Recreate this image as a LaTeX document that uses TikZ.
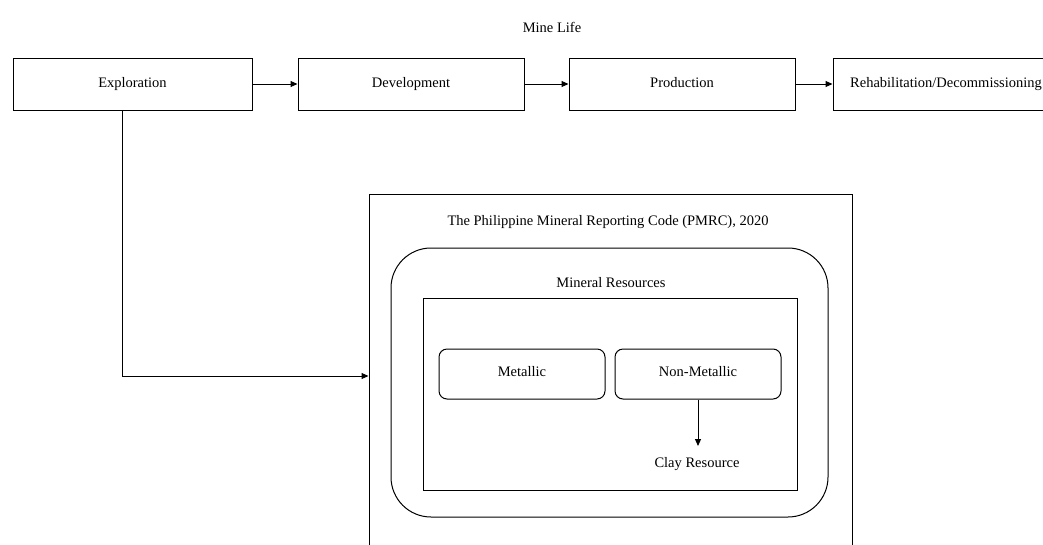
\documentclass[tikz,border=0pt]{standalone}
\usepackage{fontspec}
\setmainfont{Liberation Serif}
\usetikzlibrary{arrows.meta,calc}
\begin{document}
\begin{tikzpicture}[x=1pt,y=-1pt,
  every node/.style={font=\fontsize{14.5}{17}\selectfont, inner sep=0pt},
  stagebox/.style={draw, line width=1pt, minimum height=52pt},
  catbox/.style={draw, line width=1pt, rounded corners=8pt, minimum width=166pt, minimum height=50pt},
  conn/.style={line width=1pt, -{Triangle[length=7pt,width=6pt]}}]
\useasboundingbox (0,0) rectangle (1043,544);
\clip (0,0) rectangle (1043,544);
\node (title) at (552,27) {Mine Life};
\node[stagebox, minimum width=239pt] (expl) at (132.5,84) {\raisebox{4pt}{Exploration}};
\node[stagebox, minimum width=226pt] (dev) at (411,84) {\raisebox{4pt}{Development}};
\node[stagebox, minimum width=226pt] (prod) at (682,84) {\raisebox{4pt}{Production}};
\node[stagebox, minimum width=226pt] (rehab) at (946,84) {\raisebox{4pt}{Rehabilitation/Decommissioning}};
\draw[conn] (expl) -- (dev);
\draw[conn] (dev) -- (prod);
\draw[conn] (prod) -- (rehab);
\node[draw, line width=1pt, minimum width=483pt, minimum height=366pt] (outer) at (610.5,377) {};
\node (pmrc) at (608,222) {The Philippine Mineral Reporting Code (PMRC), 2020};
\node[draw, line width=1pt, rounded corners=40pt, minimum width=437pt, minimum height=269pt] (round) at (609.5,382.5) {};
\node (minres) at (611,283) {Mineral Resources};
\node[draw, line width=1pt, minimum width=374pt, minimum height=192pt] (inner) at (610,394) {};
\node[catbox] (met) at (522,374) {\raisebox{5pt}{Metallic}};
\node[catbox] (nonmet) at (698,374) {\raisebox{5pt}{Non-Metallic}};
\node (clay) at (697,464) {Clay Resource};
\coordinate (claytop) at (698,446);
\draw[conn] (nonmet) -- (claytop);
\coordinate (turn) at (122,376);
\draw[conn] (expl.south -| turn) -- (turn) -- (turn -| outer.west);
\end{tikzpicture}
\end{document}
